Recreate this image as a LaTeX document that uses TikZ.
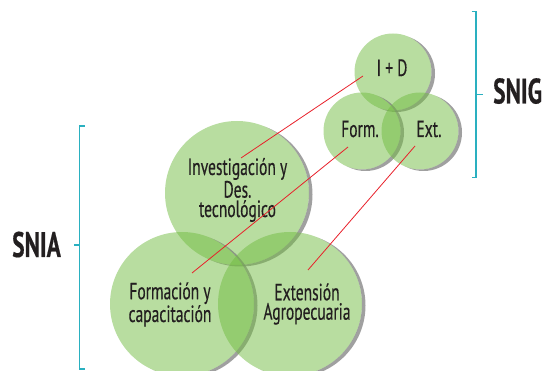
\documentclass[tikz,border=0pt]{standalone}
\usepackage{fontspec}
\setmainfont{PT Sans}[FakeStretch=0.66, FakeBold=0.35]
\definecolor{circfill}{RGB}{113,187,65}
\definecolor{bracketc}{RGB}{42,176,192}
\definecolor{txtc}{RGB}{35,31,32}
\definecolor{redc}{RGB}{232,32,42}
\definecolor{shadc}{RGB}{120,120,120}
\tikzset{
  vcirc/.style={circle, inner sep=0pt, fill=circfill, fill opacity=0.5, draw=none},
  lbl/.style={text=txtc, font=\fontsize{23.5}{19.4}\selectfont, align=center, inner sep=0pt},
  biglbl/.style={text=txtc, font=\fontsize{35.5}{36}\selectfont\bfseries, inner sep=0pt},
  link/.style={draw=redc, line width=0.8pt},
  brack/.style={draw=bracketc, line width=1.2pt},
}
\newcommand\vshadow[2]{%
  \begin{scope}[even odd rule]
    \clip (-20,-20) rectangle (580,400) (#1.center) circle[radius=#2];
    \fill[shadc, opacity=0.7] ([shift={(3.5,1.5)}]#1.center) circle[radius=#2];
  \end{scope}}
\begin{document}
\begin{tikzpicture}[x=1pt,y=-1pt]
\useasboundingbox (0,0) rectangle (546,371);
% big circles
\node[vcirc, minimum size=144pt] (inv) at (237,193) {};
\vshadow{inv}{72}
\node[vcirc, minimum size=144pt] (form) at (182,304) {};
\vshadow{form}{72}
\node[vcirc, minimum size=144pt] (ext) at (290,304) {};
\vshadow{ext}{72}
% small circles
\node[vcirc, minimum size=77pt] (id) at (393,72) {};
\vshadow{id}{38.5}
\node[vcirc, minimum size=77pt] (sf) at (362,131) {};
\vshadow{sf}{38.5}
\node[vcirc, minimum size=77pt] (se) at (420,131) {};
\vshadow{se}{38.5}
% labels
\node[lbl] (tinv) at (237.5,190) {Investigación y\\Des.\\tecnológico};
\node[lbl] (tform) at (170,304.5) {Formación y\\capacitación};
\node[lbl] (text) at (307,304) {Extensión\\Agropecuaria};
\node[lbl, anchor=base] (tid) at (392,76) {I + D};
\node[lbl, anchor=base] (tsf) at (360,137) {Form.};
\node[lbl, anchor=base] (tse) at (429,137) {Ext.};
% red links
\coordinate (a1) at (363,76); \coordinate (a2) at (241,158);
\coordinate (b1) at (348,147); \coordinate (b2) at (192,273);
\coordinate (c1) at (415,146); \coordinate (c2) at (308,270);
\draw[link] (a1) -- (a2);
\draw[link] (b1) -- (b2);
\draw[link] (c1) -- (c2);
% brackets
\coordinate (g1) at (476,11.7); \coordinate (g2) at (476,177.7); \coordinate (gm) at (476,94.3);
\draw[brack] ([xshift=-4.3]g1) -- (g1) -- (g2) -- ([xshift=-4.3]g2);
\draw[brack] (gm) -- ([xshift=7]gm);
\coordinate (s1) at (79.3,126); \coordinate (s2) at (79.3,369); \coordinate (sm) at (79.3,245);
\draw[brack] ([xshift=5.5]s1) -- (s1) -- (s2) -- ([xshift=5.5]s2);
\draw[brack] (sm) -- ([xshift=-5.5]sm);
\node[biglbl, anchor=base west] (snig) at (493,103.5) {SNIG};
\node[biglbl, anchor=base west] (snia) at (12,257) {SNIA};
\end{tikzpicture}
\end{document}
